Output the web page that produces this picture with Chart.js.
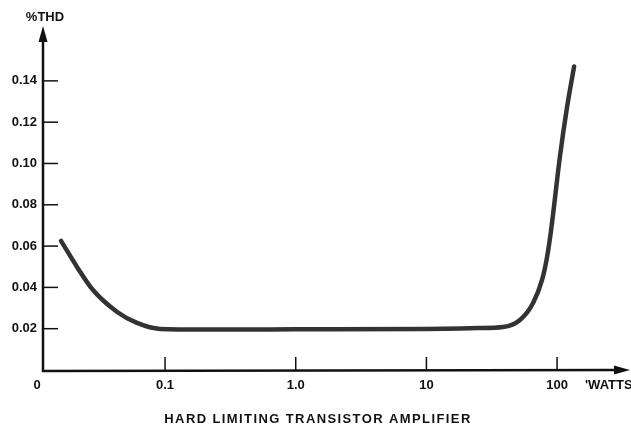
<!DOCTYPE html>
<html>
<head>
<meta charset="utf-8">
<script src="https://cdn.jsdelivr.net/npm/chart.js@4"></script>
<style>
  html, body { margin: 0; padding: 0; background: #fff; }
  #wrap { width: 631px; height: 425px; position: relative; }
</style>
</head>
<body>
<div id="wrap"><canvas id="thd"></canvas></div>
<script>
// curva (watts x %THD)
const watts = [0.016, 0.0212, 0.0281, 0.043, 0.061, 0.0916, 0.2, 1, 10, 25, 38.6, 52, 65.5, 76.7, 83.8, 90, 105, 119, 135];
const thd   = [0.0625, 0.0499, 0.0387, 0.0281, 0.0228, 0.0199, 0.0196, 0.0197, 0.0199, 0.0203, 0.0208, 0.0242, 0.0324, 0.0436, 0.0547, 0.0678, 0.103, 0.127, 0.147];

const xTicks = [0.1, 1, 10, 100];
const xLabels = ['0.1', '1.0', '10', '100'];
const yTicks = [0.02, 0.04, 0.06, 0.08, 0.10, 0.12, 0.14];
const yLabels = ['0.02', '0.04', '0.06', '0.08', '0.10', '0.12', '0.14'];

const X_MIN = 0.01164, X_MAX = 303;
const INK = '#111';
const FAM = '"Liberation Sans", Arial, sans-serif';
const FONT = 'bold 13px ' + FAM;

// eixos com setas, marcas internas e textos soltos
const eixos = {
  id: 'eixos',
  afterDraw(chart) {
    const { ctx, chartArea: a, scales: { x, y } } = chart;
    ctx.save();
    ctx.strokeStyle = INK;
    ctx.fillStyle = INK;

    // eixo y
    ctx.lineWidth = 2.5;
    ctx.beginPath();
    ctx.moveTo(a.left, a.bottom + 2);
    ctx.lineTo(a.left, a.top + 10);
    ctx.stroke();
    ctx.beginPath();
    ctx.moveTo(a.left, a.top - 2);
    ctx.lineTo(a.left - 4.5, a.top + 14);
    ctx.lineTo(a.left + 4.5, a.top + 14);
    ctx.closePath();
    ctx.fill();

    // eixo x
    ctx.beginPath();
    ctx.moveTo(a.left - 1, a.bottom + 1);
    ctx.lineTo(a.right, a.bottom);
    ctx.stroke();
    ctx.beginPath();
    ctx.moveTo(a.right + 10, a.bottom);
    ctx.lineTo(a.right - 6, a.bottom - 4.5);
    ctx.lineTo(a.right - 6, a.bottom + 4.5);
    ctx.closePath();
    ctx.fill();

    // marcas
    ctx.lineWidth = 1.5;
    yTicks.forEach(v => {
      const py = y.getPixelForValue(v);
      ctx.beginPath();
      ctx.moveTo(a.left, py);
      ctx.lineTo(a.left + 15, py);
      ctx.stroke();
    });
    xTicks.forEach(v => {
      const px = x.getPixelForValue(v);
      ctx.beginPath();
      ctx.moveTo(px, a.bottom);
      ctx.lineTo(px, a.bottom - 13);
      ctx.stroke();
    });

    // textos
    ctx.font = FONT;
    ctx.textAlign = 'center';
    ctx.textBaseline = 'middle';
    ctx.fillText('%THD', 45, 17);
    ctx.fillText('0', 37, 385);
    ctx.textAlign = 'left';
    ctx.fillText('\'WATTS', 585, 385);
    ctx.textAlign = 'center';
    if ('letterSpacing' in ctx) ctx.letterSpacing = '1.4px';
    ctx.fillText('HARD LIMITING TRANSISTOR AMPLIFIER', 318, 419);
    ctx.restore();
  }
};

new Chart(document.getElementById('thd'), {
  type: 'line',
  data: {
    datasets: [{
      data: watts.map((w, i) => ({ x: w, y: thd[i] })),
      borderColor: '#333',
      borderWidth: 4.5,
      pointRadius: 0,
      cubicInterpolationMode: 'monotone',
      borderCapStyle: 'round',
      fill: false
    }]
  },
  options: {
    responsive: true,
    maintainAspectRatio: false,
    animation: false,
    layout: { padding: { top: 28, right: 11, left: 0, bottom: 0 } },
    plugins: { legend: { display: false }, tooltip: { enabled: false } },
    scales: {
      x: {
        type: 'logarithmic',
        min: X_MIN,
        max: X_MAX,
        afterBuildTicks: s => { s.ticks = xTicks.map(v => ({ value: v })); },
        afterFit: s => { s.height = 55; },
        border: { display: false },
        grid: { display: false, drawTicks: false },
        ticks: {
          padding: 8,
          color: INK,
          font: { family: FAM, size: 13, weight: 'bold' },
          maxRotation: 0,
          autoSkip: false,
          callback: v => xLabels[xTicks.indexOf(v)] ?? ''
        }
      },
      y: {
        min: 0,
        max: 0.1656,
        afterBuildTicks: s => { s.ticks = yTicks.map(v => ({ value: v })); },
        afterFit: s => { s.width = 43; },
        border: { display: false },
        grid: { display: false, drawTicks: false },
        ticks: {
          padding: 6,
          color: INK,
          font: { family: FAM, size: 13, weight: 'bold' },
          callback: v => yLabels[yTicks.indexOf(v)] ?? ''
        }
      }
    }
  },
  plugins: [eixos]
});
</script>
</body>
</html>
